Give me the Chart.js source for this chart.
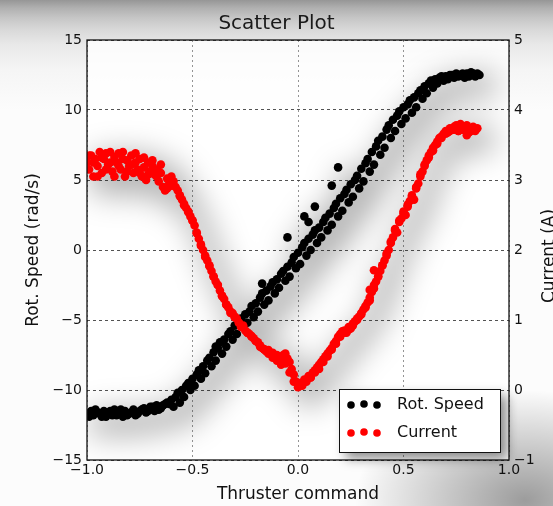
<!DOCTYPE html>
<html>
<head>
<meta charset="utf-8">
<script src="https://cdn.jsdelivr.net/npm/chart.js@4.4.1/dist/chart.umd.min.js"></script>
<style>
  html, body { margin: 0; padding: 0; }
  body {
    width: 553px; height: 506px; overflow: hidden;
    background:
      radial-gradient(ellipse 170px 110px at 525px 500px, rgba(0,0,0,0.38), rgba(0,0,0,0) 100%),
      linear-gradient(to bottom, #969696 0px, #b0b0b0 8px, #c6c6c6 18px, #d9d9d9 30px, #e9e9e9 45px, #f5f5f5 70px, #fcfcfc 110px);
  }
  #wrap { position: relative; width: 553px; height: 506px; }
</style>
</head>
<body>
<div id="wrap"><canvas id="scatterChart"></canvas></div>
<script>
// Rot. Speed (rad/s) vs thruster command
const speedCmd = [
  -1.00, -0.98, -0.97, -0.95, -0.93, -0.92, -0.90, -0.88, -0.87, -0.85, -0.83, -0.82, -0.80, -0.78, -0.77, -0.75,
  -0.73, -0.72, -0.70, -0.68, -0.67, -0.65, -0.63, -0.62, -0.60, -0.58, -0.57, -0.55, -0.53, -0.52, -0.50, -0.48,
  -0.47, -0.45, -0.43, -0.42, -0.40, -0.38, -0.37, -0.35, -0.33, -0.32, -0.30, -0.28, -0.27, -0.25, -0.23, -0.22,
  -0.20, -0.18, -0.17, -0.15, -0.13, -0.12, -0.10, -0.08, -0.07, -0.05, -0.03, -0.02, 0.00, 0.02, 0.03, 0.05,
  0.07, 0.08, 0.10, 0.12, 0.13, 0.15, 0.17, 0.18, 0.20, 0.22, 0.23, 0.25, 0.27, 0.28, 0.30, 0.32,
  0.33, 0.35, 0.37, 0.38, 0.40, 0.42, 0.43, 0.45, 0.47, 0.48, 0.50, 0.52, 0.53, 0.55, 0.57, 0.58,
  0.60, 0.62, 0.63, 0.65, 0.67, 0.68, 0.70, 0.72, 0.73, 0.75, 0.77, 0.78, 0.80, 0.82, 0.83, 0.85,
  -0.99, -0.96, -0.94, -0.91, -0.89, -0.86, -0.84, -0.81, -0.79, -0.76, -0.74, -0.71, -0.69, -0.66, -0.64, -0.61,
  -0.59, -0.56, -0.54, -0.51, -0.49, -0.46, -0.44, -0.41, -0.39, -0.36, -0.34, -0.31, -0.29, -0.26, -0.24, -0.21,
  -0.19, -0.16, -0.14, -0.11, -0.09, -0.06, -0.04, -0.01, 0.01, 0.04, 0.06, 0.09, 0.11, 0.14, 0.16, 0.19,
  0.21, 0.24, 0.26, 0.29, 0.31, 0.34, 0.36, 0.39, 0.41, 0.44, 0.46, 0.49, 0.51, 0.54, 0.56, 0.59,
  0.61, 0.64, 0.66, 0.69, 0.71, 0.74, 0.76, 0.79, 0.81, 0.84, 0.86,
  -0.05, 0.03, 0.08, 0.16, 0.19, -0.17, -0.39, 0.05
];
const speedVal = [
  -11.7, -11.5, -11.8, -11.6, -11.9, -11.5, -11.7, -11.8, -11.4, -11.6, -11.9, -11.5, -11.7, -11.4, -11.8, -11.5,
  -11.3, -11.6, -11.2, -11.5, -11.1, -11.3, -11.0, -10.9, -10.7, -10.5, -10.2, -10.0, -9.7, -9.5, -9.2, -8.9,
  -8.6, -8.3, -7.9, -7.7, -7.3, -7.0, -6.6, -6.4, -6.0, -5.8, -5.4, -5.1, -4.9, -4.6, -4.4, -4.0,
  -3.8, -3.4, -3.1, -2.9, -2.6, -2.3, -2.1, -1.7, -1.5, -1.2, -0.9, -0.5, -0.2, 0.2, 0.5, 0.8,
  1.1, 1.4, 1.6, 2.0, 2.3, 2.6, 3.0, 3.3, 3.7, 4.0, 4.3, 4.7, 5.0, 5.3, 5.8, 6.2,
  6.5, 7.0, 7.4, 7.8, 8.1, 8.6, 8.9, 9.3, 9.6, 9.9, 10.2, 10.4, 10.7, 10.9, 11.2, 11.4,
  11.7, 11.9, 12.1, 12.2, 12.3, 12.4, 12.4, 12.5, 12.5, 12.6, 12.5, 12.6, 12.6, 12.7, 12.6, 12.6,
  -11.9, -11.4, -11.7, -11.9, -11.5, -11.8, -11.4, -11.8, -11.6, -11.7, -11.4, -11.5, -11.2, -11.4, -11.1, -11.0,
  -11.2, -10.9, -10.5, -10.0, -9.7, -9.2, -8.8, -8.3, -7.9, -7.4, -6.9, -6.4, -6.0, -5.5, -5.2, -4.8,
  -4.4, -3.9, -3.6, -3.1, -2.7, -2.2, -1.9, -1.3, -1.0, -0.4, 0.0, 0.5, 0.9, 1.4, 1.8, 2.4,
  2.8, 3.4, 3.8, 4.4, 4.9, 5.6, 6.1, 6.8, 7.3, 8.0, 8.5, 9.0, 9.4, 9.8, 10.2, 10.8,
  11.2, 11.6, 11.9, 12.1, 12.2, 12.3, 12.4, 12.3, 12.4, 12.4, 12.5,
  0.9, 2.4, 3.1, 4.6, 5.9, -2.4, -6.9, 2.0
];

// Current (A) vs thruster command
const currentCmd = [
  -1.00, -0.99, -0.98, -0.97, -0.96, -0.95, -0.94, -0.93, -0.92, -0.91, -0.90, -0.89, -0.88, -0.87, -0.86, -0.85,
  -0.84, -0.83, -0.82, -0.81, -0.80, -0.79, -0.78, -0.77, -0.76, -0.75, -0.74, -0.73, -0.72, -0.71, -0.70, -0.69,
  -0.68, -0.67, -0.66, -0.65, -0.64, -0.63, -0.62, -0.61, -0.60, -0.59, -0.58, -0.57, -0.56, -0.55, -0.54, -0.53,
  -0.52, -0.51, -0.50, -0.49, -0.48, -0.47, -0.46, -0.45, -0.44, -0.43, -0.42, -0.41, -0.40, -0.39, -0.38, -0.37,
  -0.36, -0.35, -0.34, -0.33, -0.32, -0.31, -0.30, -0.29, -0.28, -0.27, -0.26, -0.25, -0.24, -0.23, -0.22, -0.21,
  -0.20, -0.19, -0.18, -0.17, -0.16, -0.15, -0.14, -0.13, -0.12, -0.11, -0.10, -0.09, -0.08, -0.07, -0.06, -0.05,
  -0.04, -0.03, -0.02, -0.01, 0.00, 0.01, 0.02, 0.03, 0.04, 0.05, 0.06, 0.07, 0.08, 0.09, 0.10, 0.11,
  0.12, 0.13, 0.14, 0.15, 0.16, 0.17, 0.18, 0.19, 0.20, 0.21, 0.22, 0.23, 0.24, 0.25, 0.26, 0.27,
  0.28, 0.29, 0.30, 0.31, 0.32, 0.33, 0.34, 0.35, 0.36, 0.37, 0.38, 0.39, 0.40, 0.41, 0.42, 0.43,
  0.44, 0.45, 0.46, 0.47, 0.48, 0.49, 0.50, 0.51, 0.52, 0.53, 0.54, 0.55, 0.56, 0.57, 0.58, 0.59,
  0.60, 0.61, 0.62, 0.63, 0.64, 0.65, 0.66, 0.67, 0.68, 0.69, 0.70, 0.71, 0.72, 0.73, 0.74, 0.75,
  0.76, 0.77, 0.78, 0.79, 0.80, 0.81, 0.82, 0.83, 0.85,
  -0.99, -0.97, -0.95, -0.93, -0.91, -0.89, -0.87, -0.85, -0.83, -0.81, -0.79, -0.77, -0.75, -0.73, -0.71, -0.69,
  -0.67, -0.65, -0.62, -0.60, -0.56, -0.54, -0.52, -0.50, -0.48, -0.46, -0.44, -0.42, -0.40, -0.38, -0.36, -0.34,
  -0.32, -0.30, -0.28, -0.26, -0.24, -0.22, -0.20, -0.18, -0.16, -0.14, -0.12, -0.10, -0.08, -0.06, -0.04, -0.02,
  0.02, 0.04, 0.06, 0.08, 0.10, 0.12, 0.14, 0.16, 0.18, 0.20, 0.22, 0.24, 0.26, 0.28, 0.30, 0.32,
  0.34, 0.36, 0.38, 0.40, 0.42, 0.44, 0.46, 0.48, 0.50, 0.52, 0.54, 0.56, 0.58, 0.60, 0.62, 0.64,
  0.66, 0.68, 0.70, 0.72, 0.74, 0.76, 0.78, 0.80, 0.82, 0.84,
  0.36, 0.34
];
const currentVal = [
  3.25, 3.15, 3.35, 3.05, 3.30, 3.20, 3.40, 3.10, 3.30, 3.38, 3.22, 3.40, 3.12, 3.33, 3.25, 3.38,
  3.15, 3.30, 3.05, 3.28, 3.20, 3.35, 3.10, 3.25, 3.15, 3.30, 3.05, 3.18, 3.00, 3.25, 3.12, 3.20,
  3.08, 3.15, 2.98, 3.10, 2.90, 2.85, 3.02, 2.95, 3.05, 2.98, 2.90, 2.85, 2.78, 2.72, 2.66, 2.60,
  2.55, 2.48, 2.42, 2.35, 2.25, 2.16, 2.08, 2.00, 1.92, 1.85, 1.78, 1.70, 1.62, 1.55, 1.50, 1.42,
  1.35, 1.30, 1.22, 1.18, 1.12, 1.10, 1.05, 1.02, 0.96, 0.90, 0.92, 0.85, 0.82, 0.80, 0.76, 0.74,
  0.70, 0.68, 0.62, 0.60, 0.58, 0.55, 0.57, 0.52, 0.53, 0.50, 0.50, 0.48, 0.46, 0.50, 0.52, 0.45,
  0.40, 0.30, 0.22, 0.12, 0.04, 0.10, 0.06, 0.15, 0.12, 0.20, 0.18, 0.25, 0.28, 0.32, 0.36, 0.40,
  0.44, 0.48, 0.52, 0.56, 0.60, 0.66, 0.70, 0.76, 0.80, 0.84, 0.85, 0.82, 0.90, 0.88, 0.95, 0.98,
  1.02, 1.05, 1.10, 1.15, 1.20, 1.25, 1.32, 1.40, 1.50, 1.55, 1.62, 1.70, 1.78, 1.85, 1.95, 2.00,
  2.10, 2.18, 2.30, 2.25, 2.40, 2.45, 2.55, 2.50, 2.62, 2.70, 2.78, 2.72, 2.88, 2.95, 3.05, 3.12,
  3.20, 3.28, 3.35, 3.40, 3.46, 3.50, 3.55, 3.60, 3.62, 3.66, 3.70, 3.68, 3.74, 3.72, 3.76, 3.78,
  3.70, 3.80, 3.76, 3.72, 3.78, 3.68, 3.74, 3.76, 3.74,
  3.35, 3.25, 3.05, 3.32, 3.15, 3.25, 3.05, 3.20, 3.40, 3.12, 3.22, 3.38, 3.10, 3.32, 3.08, 3.28,
  3.05, 3.22, 2.88, 2.92, 2.77, 2.64, 2.54, 2.42, 2.24, 2.06, 1.90, 1.77, 1.62, 1.50, 1.34, 1.22,
  1.10, 1.04, 0.96, 0.90, 0.82, 0.77, 0.70, 0.64, 0.58, 0.52, 0.46, 0.42, 0.36, 0.38, 0.25, 0.12,
  0.08, 0.14, 0.18, 0.25, 0.30, 0.40, 0.48, 0.58, 0.66, 0.76, 0.82, 0.86, 0.92, 1.00, 1.08, 1.18,
  1.28, 1.45, 1.62, 1.78, 1.92, 2.12, 2.28, 2.42, 2.52, 2.65, 2.76, 2.90, 3.08, 3.22, 3.32, 3.42,
  3.52, 3.60, 3.66, 3.70, 3.72, 3.70, 3.72, 3.64, 3.70, 3.70,
  1.71, 1.43
];

const xTicks = [-1.0, -0.5, 0.0, 0.5, 1.0];
const speedTicks = [-15, -10, -5, 0, 5, 10, 15];
const currentTicks = [-1, 0, 1, 2, 3, 4, 5];

const FONT = "'DejaVu Sans', 'Liberation Sans', sans-serif";
const minus = v => String(v).replace('-', '\u2212');

const speedPoints = speedCmd.map((x, i) => ({ x: x, y: speedVal[i] }));
const currentPoints = currentCmd.map((x, i) => ({ x: x, y: currentVal[i] }));

// soft grey halo behind the dots, like the blurred shadow in the screenshot
const haloPlugin = {
  id: 'halo',
  beforeDatasetsDraw(chart) {
    const { ctx, chartArea } = chart;
    const off = document.createElement('canvas');
    off.width = chart.width;
    off.height = chart.height;
    const octx = off.getContext('2d');
    octx.fillStyle = '#000';
    chart.data.datasets.forEach((ds, i) => {
      chart.getDatasetMeta(i).data.forEach(pt => {
        octx.beginPath();
        octx.arc(pt.x, pt.y, 10, 0, Math.PI * 2);
        octx.fill();
      });
    });
    ctx.save();
    ctx.beginPath();
    ctx.rect(chartArea.left, chartArea.top, chartArea.right - chartArea.left, chartArea.bottom - chartArea.top);
    ctx.clip();
    ctx.filter = 'blur(15px)';
    ctx.globalAlpha = 0.3;
    ctx.drawImage(off, 10, 10);
    ctx.restore();
  }
};

const framePlugin = {
  id: 'frame',
  beforeDraw(chart) {
    const { ctx, chartArea: a } = chart;
    ctx.save();
    ctx.fillStyle = 'rgba(255,255,255,0.8)';
    ctx.fillRect(a.left, a.top, a.right - a.left, a.bottom - a.top);
    ctx.restore();
  },
  afterDatasetsDraw(chart) {
    const { ctx, chartArea: a } = chart;
    ctx.save();
    ctx.strokeStyle = '#111';
    ctx.lineWidth = 1.3;
    ctx.strokeRect(a.left, a.top, a.right - a.left, a.bottom - a.top);
    ctx.restore();
  },
  afterDraw(chart) {
    const { ctx } = chart;
    // right axis title, reading bottom to top
    ctx.save();
    ctx.translate(550, 256);
    ctx.rotate(-Math.PI / 2);
    ctx.font = '17px ' + FONT;
    ctx.fillStyle = '#111';
    ctx.textAlign = 'center';
    ctx.textBaseline = 'middle';
    ctx.fillText('Current (A)', 0, 0);
    ctx.restore();

    // legend box in the lower right corner
    const bx = 339.5, by = 389.5, bw = 161, bh = 63;
    ctx.save();
    ctx.filter = 'blur(6px)';
    ctx.fillStyle = 'rgba(0,0,0,0.45)';
    ctx.fillRect(bx + 6, by + 6, bw, bh);
    ctx.restore();
    ctx.save();
    ctx.fillStyle = '#fff';
    ctx.fillRect(bx, by, bw, bh);
    ctx.strokeStyle = '#111';
    ctx.lineWidth = 1;
    ctx.strokeRect(bx, by, bw, bh);
    ctx.font = '16px ' + FONT;
    ctx.textBaseline = 'middle';
    chart.data.datasets.forEach((ds, i) => {
      const cy = 405 + i * 28;
      ctx.fillStyle = ds.backgroundColor;
      [351, 364, 377].forEach((cx, k) => {
        ctx.beginPath();
        ctx.arc(cx, cy + (k === 1 ? -1 : 0), 3.8, 0, Math.PI * 2);
        ctx.fill();
      });
      ctx.fillStyle = '#111';
      ctx.fillText(ds.label, 397, cy);
    });
    ctx.restore();
  }
};

new Chart(document.getElementById('scatterChart'), {
  type: 'scatter',
  data: {
    datasets: [
      {
        label: 'Rot. Speed',
        data: speedPoints,
        yAxisID: 'y',
        backgroundColor: '#000000',
        borderWidth: 0,
        pointRadius: 4.3,
        order: 1
      },
      {
        label: 'Current',
        data: currentPoints,
        yAxisID: 'y1',
        backgroundColor: '#ff0000',
        borderWidth: 0,
        pointRadius: 4.3,
        order: 0
      }
    ]
  },
  options: {
    responsive: true,
    maintainAspectRatio: false,
    animation: false,
    layout: { padding: 0 },
    plugins: {
      legend: { display: false },
      tooltip: { enabled: false },
      title: {
        display: true,
        text: 'Scatter Plot',
        color: '#1a1a1a',
        font: { family: FONT, size: 20, weight: 'normal' },
        padding: { top: 12, bottom: 4 }
      }
    },
    scales: {
      x: {
        type: 'linear',
        min: -1,
        max: 1,
        afterBuildTicks: s => { s.ticks = xTicks.map(v => ({ value: v })); },
        afterFit: s => { s.height = 46; },
        ticks: {
          color: '#111',
          font: { family: FONT, size: 14 },
          padding: 2,
          maxRotation: 0,
          callback: v => minus(v.toFixed(1))
        },
        grid: {
          color: 'rgba(60,60,60,0.55)',
          lineWidth: 1,
          drawTicks: false
        },
        border: { display: false, dash: [2, 3] },
        title: {
          display: true,
          text: 'Thruster command',
          color: '#111',
          font: { family: FONT, size: 17 },
          padding: { top: 0, bottom: 1 }
        }
      },
      y: {
        type: 'linear',
        position: 'left',
        min: -15,
        max: 15,
        afterBuildTicks: s => { s.ticks = speedTicks.map(v => ({ value: v })); },
        afterFit: s => { s.width = 87; },
        ticks: {
          color: '#111',
          font: { family: FONT, size: 14 },
          padding: 5,
          callback: v => minus(v)
        },
        grid: {
          color: 'rgba(40,40,40,0.8)',
          lineWidth: 1,
          drawTicks: false
        },
        border: { display: false, dash: [3, 3] },
        title: {
          display: true,
          text: 'Rot. Speed (rad/s)',
          color: '#111',
          font: { family: FONT, size: 17 },
          padding: { top: 23, bottom: 0 }
        }
      },
      y1: {
        type: 'linear',
        position: 'right',
        min: -1,
        max: 5,
        afterBuildTicks: s => { s.ticks = currentTicks.map(v => ({ value: v })); },
        afterFit: s => { s.width = 44; },
        ticks: {
          color: '#111',
          font: { family: FONT, size: 14 },
          padding: 5,
          callback: v => minus(v)
        },
        grid: { drawOnChartArea: false, drawTicks: false },
        border: { display: false }
      }
    }
  },
  plugins: [haloPlugin, framePlugin]
});
</script>
</body>
</html>
